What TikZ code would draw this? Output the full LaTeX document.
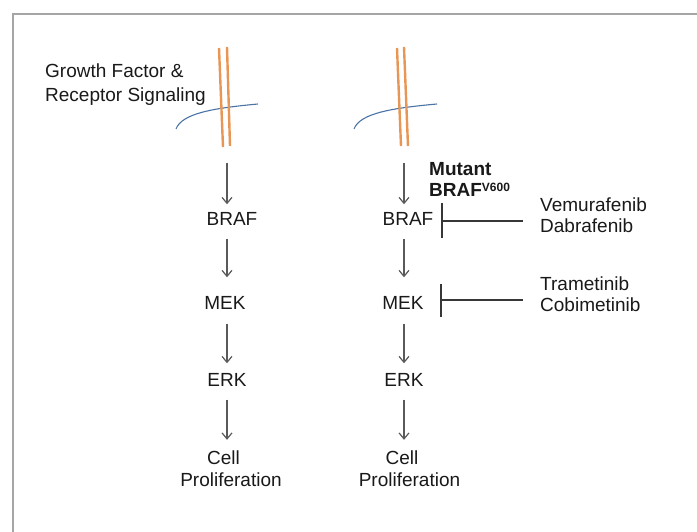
\documentclass[tikz,border=0pt]{standalone}
\usepackage{fontspec}
\setmainfont{Liberation Sans}
\usetikzlibrary{arrows.meta}
\definecolor{framec}{RGB}{165,165,165}
\definecolor{memb}{RGB}{232,150,85}
\definecolor{lipid}{RGB}{75,115,165}
\definecolor{arrowc}{RGB}{90,90,90}
\definecolor{txt}{RGB}{25,25,25}
\definecolor{inhc}{RGB}{55,55,55}
\begin{document}
\begin{tikzpicture}[x=1pt,y=-1pt,
  lbl/.style={inner sep=0pt, text=txt, font=\fontsize{19}{21}\selectfont},
  flow/.style={draw=arrowc, line width=1.2pt, -{Straight Barb[length=6pt,width=10pt]}},
  inh/.style={draw=inhc, line width=1.5pt},
  memline/.style={draw=memb, line width=2.4pt},
  lipidline/.style={draw=lipid, line width=1.1pt}]
\useasboundingbox (0,0) rectangle (697,532);
\draw[framec, line width=2.5pt] (13,533) -- (13,14) -- (698,14);

% left membrane
\node[lbl, anchor=west, align=left, font=\fontsize{19}{24}\selectfont] (gf) at (45,85) {Growth Factor \&\\Receptor Signaling};
\draw[lipidline] (176,129) .. controls (182,113) and (215,108) .. (258,104);
\draw[memline] (219,48) -- (223,147);
\draw[memline] (227,47) -- (230,146);

% right membrane
\draw[lipidline] (354,129) .. controls (360,113) and (393,108) .. (437,104);
\draw[memline] (397,48) -- (401,146);
\draw[memline] (404,47) -- (408,146);

% left column
\coordinate (s1) at (227,163);
\node[lbl] (braf1) at (232,219) {BRAF};
\node[lbl] (mek1) at (225,303) {MEK};
\node[lbl] (erk1) at (227,380) {ERK};
\node[lbl, align=center, font=\fontsize{19}{22}\selectfont] (cell1) at (231,469) {Cell\hspace*{15pt}\\Proliferation};
\draw[flow, shorten >=8pt] (s1) -- (s1 |- braf1.north);
\draw[flow, shorten <=13pt, shorten >=19pt] (braf1.south -| s1) -- (mek1.north -| s1);
\draw[flow, shorten <=14pt, shorten >=10pt] (mek1.south -| s1) -- (erk1.north -| s1);
\draw[flow, shorten <=13pt, shorten >=11pt] (erk1.south -| s1) -- (cell1.north -| s1);

% right column
\coordinate (s2) at (404,163);
\node[lbl] (braf2) at (408,219) {BRAF};
\node[lbl] (mek2) at (403,303) {MEK};
\node[lbl] (erk2) at (404,380) {ERK};
\node[lbl, align=center, font=\fontsize{19}{22}\selectfont] (cell2) at (409.5,469) {Cell\hspace*{15pt}\\Proliferation};
\draw[flow, shorten >=8pt] (s2) -- (s2 |- braf2.north);
\draw[flow, shorten <=13pt, shorten >=19pt] (braf2.south -| s2) -- (mek2.north -| s2);
\draw[flow, shorten <=14pt, shorten >=10pt] (mek2.south -| s2) -- (erk2.north -| s2);
\draw[flow, shorten <=13pt, shorten >=11pt] (erk2.south -| s2) -- (cell2.north -| s2);

% mutant label
\node[lbl, anchor=west, align=left, font=\bfseries\fontsize{19}{21}\selectfont] (mut) at (429,179.5) {Mutant\\BRAF\raisebox{5pt}{\fontsize{12}{12}\selectfont V600}};

% drugs
\node[lbl, anchor=west, align=left] (drug1) at (540,215.5) {Vemurafenib\\Dabrafenib};
\node[lbl, anchor=west, align=left] (drug2) at (540,294) {Trametinib\\Cobimetinib};

\coordinate (i1) at (523,221);
\coordinate (b1) at (441,221);
\coordinate (i2) at (523,300);
\coordinate (b2) at (440,300);
\draw[inh, -{Bar[width=35pt]}] (i1) -- (b1);
\draw[inh, -{Bar[width=33pt]}] (i2) -- (b2);
\end{tikzpicture}
\end{document}
